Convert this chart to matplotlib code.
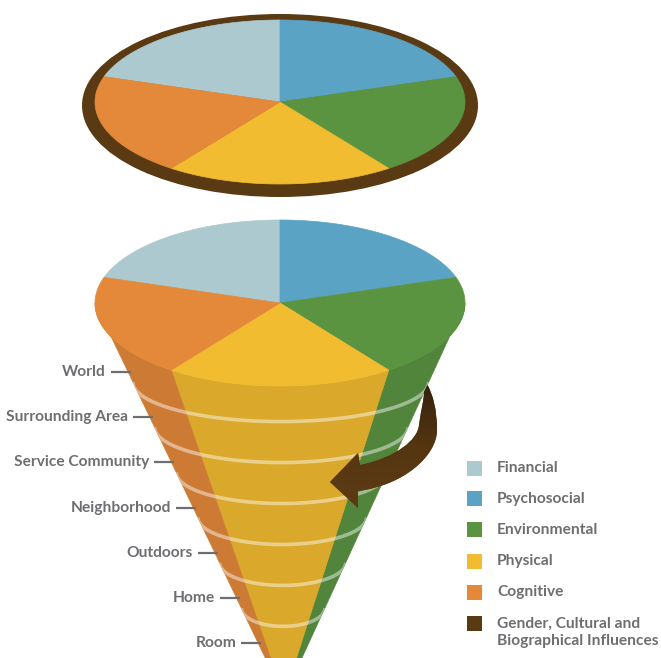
import numpy as np
import matplotlib
matplotlib.use("Agg")
import matplotlib.pyplot as plt
from matplotlib.patches import Polygon, Ellipse, Rectangle, PathPatch
from matplotlib.path import Path
from matplotlib.colors import LinearSegmentedColormap, to_rgb

plt.rcParams['font.family'] = ['Lato', 'DejaVu Sans']

# ---- data ----
factors = ["Financial", "Psychosocial", "Environmental", "Physical", "Cognitive"]
shares = [1, 1, 1, 1, 1]
factor_colors = ["#abc9cf", "#5aa3c4", "#5a9441", "#f2bc31", "#e4893a"]
influence_label = "Gender, Cultural and\nBiographical Influences"
brown = "#5a3a13"
levels = ["World", "Surrounding Area", "Service Community", "Neighborhood",
          "Outdoors", "Home", "Room"]
text_grey = "#6d6e71"

# ---- canvas in pixel units ----
fig = plt.figure(figsize=(6.61, 6.58), dpi=100)
ax = fig.add_axes([0, 0, 1, 1])
ax.set_xlim(0, 661)
ax.set_ylim(658, 0)
ax.axis('off')


def ell_pts(cx, cy, a, b, t1, t2, n=80):
    t = np.radians(np.linspace(t1, t2, n))
    return np.column_stack([cx + a * np.cos(t), cy - b * np.sin(t)])


def slice_angles(start=162):
    total = float(sum(shares))
    out = []
    cur = start
    for s in shares:
        span = 360 * s / total
        out.append((cur, cur - span))
        cur -= span
    return out


def draw_pie(cx, cy, a, b, z):
    for (t0, t1), c in zip(slice_angles(), factor_colors):
        pts = np.vstack([[cx, cy], ell_pts(cx, cy, a, b, t0, t1)])
        ax.add_patch(Polygon(pts, closed=True, fc=c, ec=c, lw=0.5, zorder=z))


# ---- top disc ----
ax.add_patch(Ellipse((280, 105.5), 396, 183, fc=brown, ec="none", zorder=1))
draw_pie(280, 102, 185, 82, 2)

# ---- cone ----
cx, cy, ca, cb = 280, 303, 185, 83
apex = (284, 697)


def axis_x(y):
    return cx + (apex[0] - cx) * (y - cy) / (apex[1] - cy)


def radius(y):
    return ca * (apex[1] - y) / (apex[1] - cy)


for (t0, t1), c in zip(slice_angles(), factor_colors):
    hi, lo = min(t0, 0), max(t1, -180)
    if lo < hi:
        side = np.array(to_rgb(c)) * 0.9
        pts = np.vstack([ell_pts(cx, cy, ca, cb, hi, lo), [apex]])
        ax.add_patch(Polygon(pts, closed=True, fc=side, ec=side, lw=0.5, zorder=3))

cone_clip = Polygon(np.vstack([ell_pts(cx, cy, ca, cb, 0, -180), [apex]]),
                    closed=True, transform=ax.transData)

label_y0, label_dy = 372, 45.2
for i in range(len(levels) - 1):
    yc = label_y0 + i * label_dy + 10
    r = radius(yc)
    b = 0.2 * r + 10
    t = np.linspace(0, np.pi, 120)
    ring, = ax.plot(axis_x(yc) - r * np.cos(t), yc + b * np.sin(t),
                    color="white", alpha=0.45, lw=2.6, zorder=4,
                    solid_capstyle="butt")
    ring.set_clip_path(cone_clip)

draw_pie(cx, cy, ca, cb, 5)

# ---- level labels ----
for i, name in enumerate(levels):
    y = label_y0 + i * label_dy
    edge = axis_x(y) - radius(y)
    x1 = edge + 3
    ax.plot([x1 - 20, x1], [y, y], color=text_grey, lw=1.6, zorder=6,
            solid_capstyle="butt")
    ax.text(x1 - 25, y, name, ha="right", va="center", fontsize=11.2,
            fontweight="bold", color=text_grey, zorder=6)

# ---- curved arrow ----
verts = [(427.5, 385),
         (433, 395), (437, 410), (437, 430),
         (437, 455), (405, 485), (358, 491),
         (358, 508), (330, 482), (358, 453), (360, 465),
         (395, 458), (418, 440), (419, 425),
         (421, 410), (424, 400), (424, 392),
         (427.5, 385)]
codes = [Path.MOVETO,
         Path.CURVE4, Path.CURVE4, Path.CURVE4,
         Path.CURVE4, Path.CURVE4, Path.CURVE4,
         Path.LINETO, Path.LINETO, Path.LINETO, Path.LINETO,
         Path.CURVE4, Path.CURVE4, Path.CURVE4,
         Path.CURVE4, Path.CURVE4, Path.CURVE4,
         Path.CLOSEPOLY]
arrow = PathPatch(Path(verts, codes), fc=brown, ec="none", zorder=7)
ax.add_patch(arrow)
grad = np.linspace(0, 1, 100).reshape(-1, 1)
cmap = LinearSegmentedColormap.from_list("br", ["#35200e", "#553611", "#5e3c15"])
img = ax.imshow(grad, extent=[320, 450, 515, 380], cmap=cmap, aspect="auto",
                zorder=8, interpolation="bilinear")
img.set_clip_path(arrow)
ax.set_xlim(0, 661)
ax.set_ylim(658, 0)

# ---- legend ----
leg_y = [468, 498.5, 529.5, 561, 592]
for name, c, y in zip(factors, factor_colors, leg_y):
    ax.add_patch(Rectangle((467, y - 7.5), 15, 15, fc=c, ec="none", zorder=6))
    ax.text(497, y, name, ha="left", va="center", fontsize=11.2,
            fontweight="bold", color=text_grey)
ax.add_patch(Rectangle((467, 623 - 7.5), 15, 15, fc=brown, ec="none", zorder=6))
ax.text(497, 632.5, influence_label, ha="left", va="center", fontsize=11.2,
        fontweight="bold", color=text_grey, linespacing=1.25)

fig.savefig("out.png", dpi=100)
